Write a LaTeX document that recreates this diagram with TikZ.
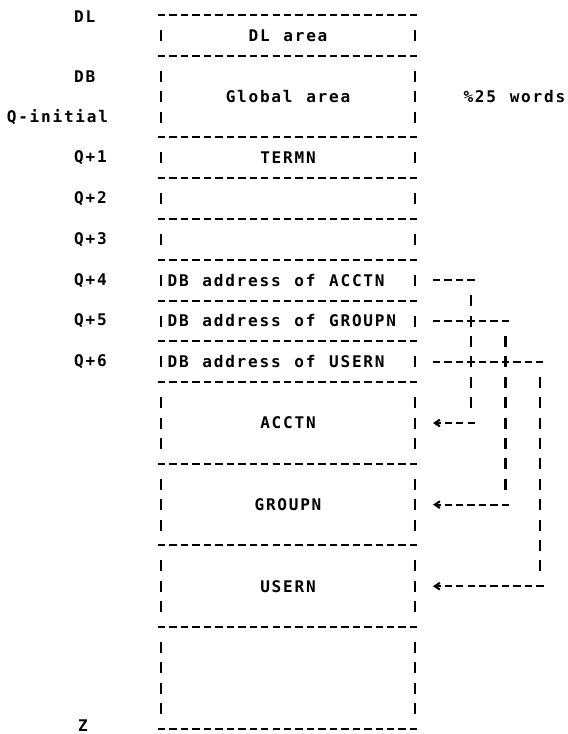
\documentclass[tikz,border=0pt]{standalone}
\usepackage{fontspec}
\setmonofont[LetterSpace=11, WordSpace=1.2]{DejaVu Sans Mono}
\usetikzlibrary{positioning, arrows.meta}

\begin{document}
\begin{tikzpicture}[
        font=\ttfamily\bfseries\fontsize{13.7pt}{16pt}\selectfont,
        cell/.style={minimum width=7.62cm, inner sep=0pt, outer sep=0pt, align=center},
        adrcell/.style={cell, text width=7.22cm, inner xsep=0.2cm, align=flush left},
        hline/.style={line width=1.8pt, dash pattern=on 0.222cm off 0.1215cm, shorten <=-0.09cm, shorten >=-0.09cm},
        vline/.style={line width=1.8pt, dash pattern=on 0.33cm off 0.282cm, shorten <=0.447cm, shorten >=0.447cm},
        link/.style={hline, shorten <=0pt, shorten >=-0.111cm},
        arrow/.style={hline, shorten <=-0.111cm, shorten >=0pt, -{Straight Barb[length=0.15cm, width=0.2cm]}},
        lbl/.style={anchor=west, inner sep=0pt}
    ]
    \useasboundingbox (0,0) rectangle (17.04,-22.02);

    % Memory cells
    \node[cell, minimum height=1.224cm, anchor=north west] (dl) at (4.83,-0.45) {DL area};
    \node[cell, minimum height=2.448cm, below=0pt of dl] (glob) {Global area};
    \node[cell, minimum height=1.224cm, below=0pt of glob] (termn) {TERMN};
    \node[cell, minimum height=1.224cm, below=0pt of termn] (qtwo) {};
    \node[cell, minimum height=1.224cm, below=0pt of qtwo] (qthree) {};
    \node[adrcell, minimum height=1.224cm, below=0pt of qthree] (accadr) {DB address of ACCTN};
    \node[adrcell, minimum height=1.224cm, below=0pt of accadr] (grpadr) {DB address of GROUPN};
    \node[adrcell, minimum height=1.224cm, below=0pt of grpadr] (usradr) {DB address of USERN};
    \node[cell, minimum height=2.448cm, below=0pt of usradr] (acctn) {ACCTN};
    \node[cell, minimum height=2.448cm, below=0pt of acctn] (groupn) {GROUPN};
    \node[cell, minimum height=2.448cm, below=0pt of groupn] (usern) {USERN};
    \node[cell, minimum height=3.06cm, below=0pt of usern] (free) {};

    % Borders
    \foreach \c in {dl,glob,termn,qtwo,qthree,accadr,grpadr,usradr,acctn,groupn,usern,free}{
        \draw[hline] (\c.north west) -- (\c.north east);
        \draw[hline] (\c.south west) -- (\c.south east);
        \draw[vline] (\c.north west) -- (\c.south west);
        \draw[vline] (\c.north east) -- (\c.south east);
    }

    % Addresses
    \node[lbl] (ldl) at (2.22,-0.5) {DL};
    \node[lbl] (ldb) at (2.22,-2.286) {DB};
    \node[lbl] (lqinit) at (0.2,-3.51) {Q-initial};
    \node[lbl] (lq1) at (2.22,-4.734) {Q+1};
    \node[lbl] (lq2) at (2.22,-5.958) {Q+2};
    \node[lbl] (lq3) at (2.22,-7.182) {Q+3};
    \node[lbl] (lq4) at (2.22,-8.406) {Q+4};
    \node[lbl] (lq5) at (2.22,-9.63) {Q+5};
    \node[lbl] (lq6) at (2.22,-10.854) {Q+6};
    \node[lbl] (lz) at (2.34,-21.76) {Z};
    \node[lbl] (words) at (13.9,-2.898) {\%25 words};

    % Pointers
    \coordinate (acctop) at ([xshift=1.686cm]accadr.east);
    \coordinate (accbot) at (acctop |- acctn.east);
    \draw[link] ([xshift=0.54cm]accadr.east) -- (acctop);
    \draw[vline] (acctop) -- (accbot);
    \draw[arrow] (accbot) -- ([xshift=0.54cm]acctn.east);

    \coordinate (grptop) at ([xshift=2.715cm]grpadr.east);
    \coordinate (grpbot) at (grptop |- groupn.east);
    \draw[link] ([xshift=0.54cm]grpadr.east) -- (grptop);
    \draw[vline] (grptop) -- (grpbot);
    \draw[arrow] (grpbot) -- ([xshift=0.54cm]groupn.east);

    \coordinate (usrtop) at ([xshift=3.747cm]usradr.east);
    \coordinate (usrbot) at (usrtop |- usern.east);
    \draw[link] ([xshift=0.54cm]usradr.east) -- (usrtop);
    \draw[vline] (usrtop) -- (usrbot);
    \draw[arrow] (usrbot) -- ([xshift=0.54cm]usern.east);

\end{tikzpicture}
\end{document}
